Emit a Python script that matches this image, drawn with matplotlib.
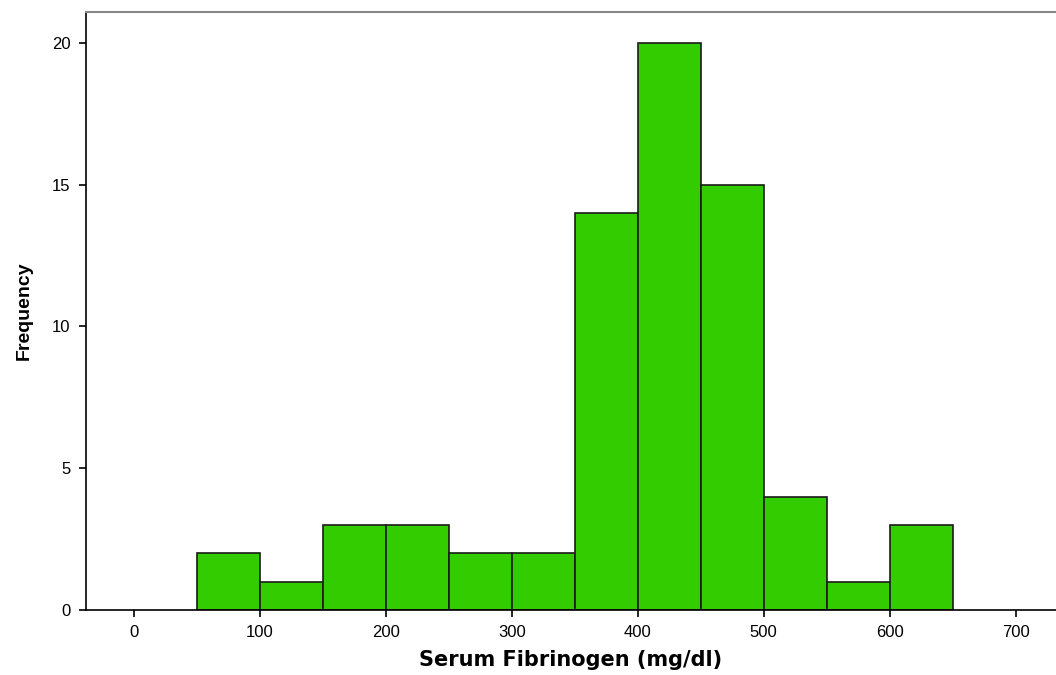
import numpy as np
import matplotlib
matplotlib.use("Agg")
from matplotlib import pyplot as plt

# Histogram bins (mg/dl) and counts
bin_edges = [50, 100, 150, 200, 250, 300, 350, 400, 450, 500, 550, 600, 650]
counts = [2, 1, 3, 3, 2, 2, 14, 20, 15, 4, 1, 3]
x_ticks = [0, 100, 200, 300, 400, 500, 600, 700]
y_ticks = [0, 5, 10, 15, 20]

plt.rcParams['font.family'] = ['Liberation Sans', 'DejaVu Sans']

fig = plt.figure(figsize=(10.56, 6.75), dpi=100)
ax = fig.add_axes([86/1056, 65/675, 1 - 86/1056, (610-12)/675])

lefts = np.array(bin_edges[:-1])
widths = np.diff(bin_edges)
ax.bar(lefts, counts, width=widths, align='edge', color='#33CC00',
       edgecolor='#1a1a1a', linewidth=1.2)

ax.set_xlim(-38, 732)
ax.set_ylim(0, 21.09)
ax.set_xticks(x_ticks)
ax.set_yticks(y_ticks)
ax.tick_params(direction='out', length=5, width=1.2, labelsize=12, colors='black', pad=6)

ax.spines['right'].set_visible(False)
ax.spines['top'].set_color('#888888')
ax.spines['top'].set_linewidth(1.5)
ax.spines['left'].set_linewidth(1.2)
ax.spines['bottom'].set_linewidth(1.2)

ax.set_xlabel('Serum Fibrinogen (mg/dl)', fontsize=15, fontweight='bold', labelpad=7,
              family=['DejaVu Sans'])
ax.set_ylabel('Frequency', fontsize=14, fontweight='bold', labelpad=14)

fig.savefig('out.png', dpi=100)
